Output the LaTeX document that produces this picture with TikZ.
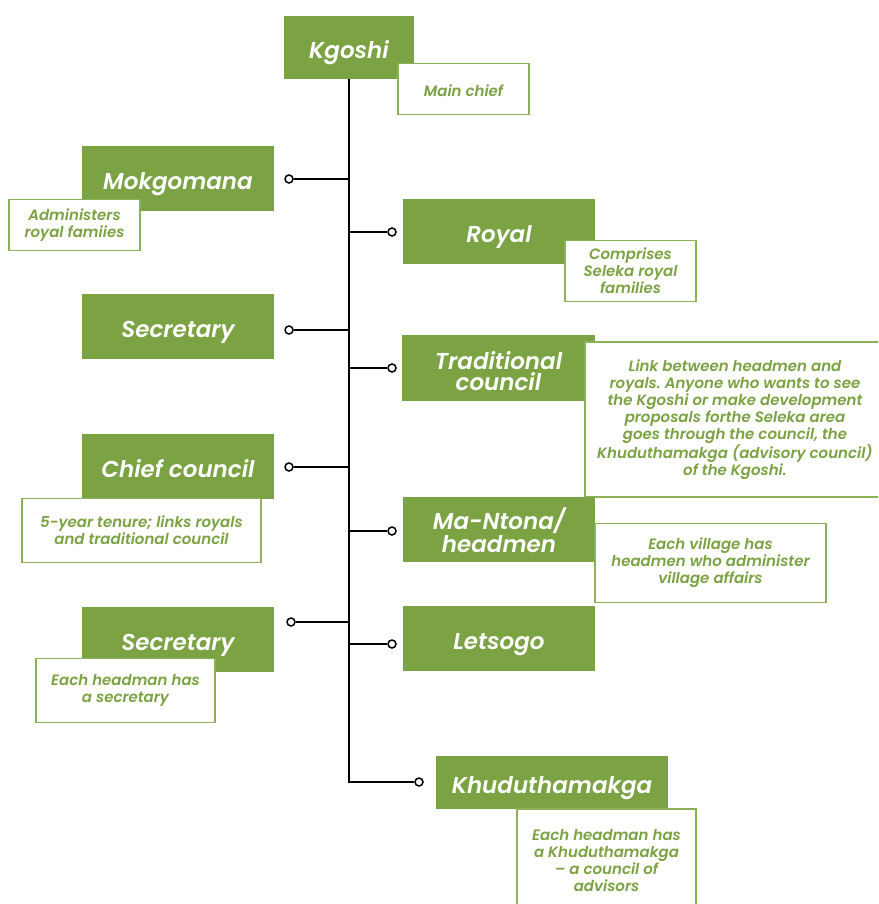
\documentclass[tikz,border=0pt]{standalone}
\usepackage{fontspec}
\setmainfont{Poppins}[BoldItalicFont={Poppins SemiBold Italic}]
\frenchspacing

\definecolor{leaf}{RGB}{123,162,67}
\definecolor{leafline}{RGB}{140,178,88}

\begin{document}
\begin{tikzpicture}[x=1pt, y=-1pt,
  rank/.style={fill=leaf, text=white, inner sep=0pt, align=center,
    minimum width=192, minimum height=65, text height=28pt, text depth=6pt,
    font=\bfseries\itshape\fontsize{23}{21}\selectfont},
  ranktwo/.style={rank, text height=45pt, text depth=0pt},
  note/.style={fill=white, draw=leafline, line width=1.6pt, text=leaf,
    inner sep=0pt, align=center, font=\bfseries\itshape\fontsize{15}{17}\selectfont,
    execute at begin node={\rule{0pt}{15pt}}},
  dot/.style={circle, draw=black, fill=white, line width=1.5pt, minimum size=8, inner sep=0pt},
  link/.style={line width=1.8pt}]
  \useasboundingbox (0,0) rectangle (878,904);
  \clip (0,0) rectangle (878,904);

  % Head of the chart
  \node[rank, minimum width=130, minimum height=63] (kgoshi) at (349,47.5) {Kgoshi};
  \node[note, minimum width=131, minimum height=51] (kgoshi-note) at (463.5,89) {Main chief};

  % Left hand branches
  \node[rank] (mokgomana) at (178,178.5) {Mokgomana};
  \node[note, minimum width=131, minimum height=51] (mokgomana-note) at (74.5,225) {Administers\\royal famiies};
  \node[dot] (mokgomana-dot) at (289,179) {};

  \node[rank] (secretary) at (178,326.5) {Secretary};
  \node[dot] (secretary-dot) at (289,330) {};

  \node[rank] (chief) at (178,466.5) {Chief council};
  \node[note, minimum width=239, minimum height=64] (chief-note) at (141.5,530.5) {5-year tenure; links royals\\and traditional council};
  \node[dot] (chief-dot) at (289,467) {};

  \node[rank] (secretary2) at (178,639.5) {Secretary};
  \node[note, minimum width=179, minimum height=64] (secretary2-note) at (125.5,690.5) {Each headman has\\a secretary};
  \node[dot] (secretary2-dot) at (291,622) {};

  % Right hand branches
  \node[rank] (royal) at (499,231.5) {Royal};
  \node[note, minimum width=131, minimum height=61] (royal-note) at (630.5,271) {Comprises\\Seleka royal\\families};
  \node[dot] (royal-dot) at (392,232) {};

  \node[ranktwo, minimum width=193, minimum height=66] (traditional) at (498.5,368) {Traditional\\council};
  \node[note, minimum width=300, minimum height=155] (traditional-note) at (735,419.5)
    {Link between headmen and\\royals. Anyone who wants to see\\the Kgoshi or make development\\proposals forthe Seleka area\\goes through the council, the\\Khuduthamakga (advisory council)\\of the Kgoshi.};
  \node[dot] (traditional-dot) at (392,368) {};

  \node[ranktwo] (headmen) at (499,529.5) {Ma-Ntona/\\headmen};
  \node[note, minimum width=231, minimum height=79] (headmen-note) at (710.5,563) {Each village has\\headmen who administer\\village affairs};
  \node[dot] (headmen-dot) at (392,531) {};

  \node[rank] (letsogo) at (499,638.5) {Letsogo};
  \node[dot] (letsogo-dot) at (392,644) {};

  \node[rank, minimum width=232, minimum height=53] (khudu) at (552,782.5) {Khuduthamakga};
  \node[note, minimum width=179, minimum height=104] (khudu-note) at (606.5,861) {Each headman has\\a Khuduthamakga\\-- a council of\\advisors};
  \node[dot] (khudu-dot) at (419,782) {};

  % Spine and branch lines
  \draw[link] (kgoshi.south) -- (khudu-dot -| kgoshi.south) -- (khudu-dot.west);
  \draw[link] (mokgomana-dot.east) -- (mokgomana-dot -| kgoshi.south);
  \draw[link] (secretary-dot.east) -- (secretary-dot -| kgoshi.south);
  \draw[link] (chief-dot.east) -- (chief-dot -| kgoshi.south);
  \draw[link] (secretary2-dot.east) -- (secretary2-dot -| kgoshi.south);
  \draw[link] (royal-dot.west) -- (royal-dot -| kgoshi.south);
  \draw[link] (traditional-dot.west) -- (traditional-dot -| kgoshi.south);
  \draw[link] (headmen-dot.west) -- (headmen-dot -| kgoshi.south);
  \draw[link] (letsogo-dot.west) -- (letsogo-dot -| kgoshi.south);
\end{tikzpicture}
\end{document}
